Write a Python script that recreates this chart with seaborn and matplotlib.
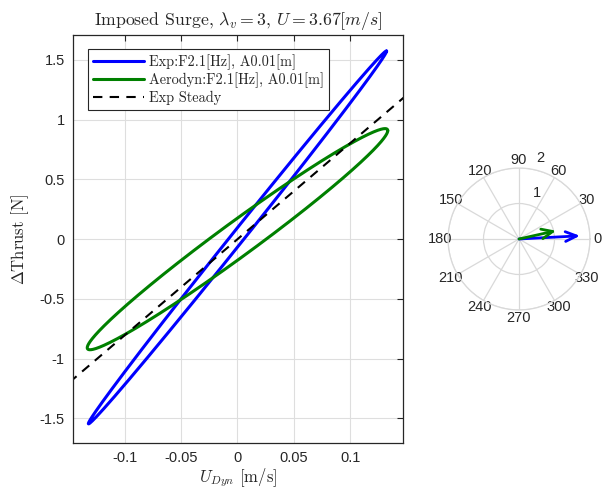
import numpy as np
import pandas as pd
import matplotlib
matplotlib.use("Agg")
import matplotlib.pyplot as plt
from matplotlib.lines import Line2D
import seaborn as sns

# ---- data ----
series_names = ["Exp:F2.1[Hz], A0.01[m]", "Aerodyn:F2.1[Hz], A0.01[m]"]
series_colors = ["#0000ff", "#008000"]
u_amplitude = [0.132, 0.133]        # m/s
thrust_amplitude = [1.56, 0.925]    # N
phase_deg = [3.0, 11.0]             # thrust lead w.r.t. U_dyn
thrust_offset = [0.015, 0.0]

steady_u = [-0.16, 0.16]
steady_thrust = [-1.288, 1.288]

polar_mag = [1.72, 1.07]
polar_angle_deg = [3.0, 12.6]

xticks = [-0.1, -0.05, 0, 0.05, 0.1]
xtick_labels = ["-0.1", "-0.05", "0", "0.05", "0.1"]
yticks = [-1.5, -1, -0.5, 0, 0.5, 1, 1.5]
ytick_labels = ["-1.5", "-1", "-0.5", "0", "0.5", "1", "1.5"]

# ---- build loops ----
t = np.linspace(0, 2 * np.pi, 721)
frames = []
for name, A, B, ph, off in zip(series_names, u_amplitude, thrust_amplitude, phase_deg, thrust_offset):
    frames.append(pd.DataFrame({
        "u": A * np.cos(t),
        "T": B * np.cos(t + np.deg2rad(ph)) + off,
        "series": name,
    }))
df = pd.concat(frames, ignore_index=True)

sns.set_style("white")
plt.rcParams["axes.unicode_minus"] = False
plt.rcParams["mathtext.fontset"] = "cm"
plt.rcParams["font.family"] = ["Liberation Sans", "DejaVu Sans"]

fig = plt.figure(figsize=(6.03, 4.91), dpi=100)
ax = fig.add_axes([73 / 603, 1 - 443 / 491, 330 / 603, 408 / 491])

sns.lineplot(data=df, x="u", y="T", hue="series", palette=series_colors,
             sort=False, estimator=None, units="series", lw=2.2, ax=ax, legend=False)
dash = (0, (4.5, 3.5))
ax.plot(steady_u, steady_thrust, ls=dash, color="black", lw=1.5)

handles = [Line2D([], [], color=series_colors[0], lw=2.2),
           Line2D([], [], color=series_colors[1], lw=2.2),
           Line2D([], [], color="black", lw=1.5, ls=dash)]
leg = ax.legend(handles, series_names + ["Exp Steady"], loc="upper left",
                bbox_to_anchor=(0.045, 0.966), fancybox=False, framealpha=1,
                edgecolor="#262626", prop={"family": "cmr10", "size": 10.3},
                handlelength=3.6, borderpad=0.35, labelspacing=0.2, handletextpad=0.3,
                borderaxespad=0)
leg.get_frame().set_linewidth(0.8)

ax.set_xlim(-0.1456, 0.1465)
ax.set_ylim(-1.705, 1.708)
ax.set_xticks(xticks)
ax.set_xticklabels(xtick_labels)
ax.set_yticks(yticks)
ax.set_yticklabels(ytick_labels)
ax.grid(True, color="#dedede", lw=0.8)
ax.set_axisbelow(True)
ax.tick_params(direction="in", top=True, right=True, length=4, width=0.8,
               labelsize=10.5, colors="#262626", pad=6)
for sp in ax.spines.values():
    sp.set_color("#262626")
    sp.set_linewidth(0.9)
    sp.set_visible(True)

ax.set_xlabel(r"$U_{Dyn}$ [m/s]", fontfamily="cmr10", fontsize=12, labelpad=1)
ax.set_ylabel(r"$\Delta$Thrust [N]", fontfamily="cmr10", fontsize=12, labelpad=6)
ax.set_title(r"Imposed Surge, $\lambda_v = 3$, $U = 3.67[m/s]$", fontfamily="cmr10",
             fontsize=12.8, pad=7)

# ---- polar compass ----
pax = fig.add_axes([448 / 603, 1 - 310 / 491, 142 / 603, 142 / 491], projection="polar")
pax.set_ylim(0, 2)
pax.set_yticks([1, 2])
pax.set_yticklabels([])
pax.set_xticks(np.deg2rad(np.arange(0, 360, 30)))
pax.set_xticklabels([str(a) for a in range(0, 360, 30)], fontsize=10.5)
pax.tick_params(axis="x", pad=-5)
pax.grid(True, color="#d9d9d9", lw=0.9)
pax.spines["polar"].set_color("#d9d9d9")
pax.spines["polar"].set_linewidth(0.9)
pax.set_facecolor("white")
pax.text(np.deg2rad(69), 1.38, "1", ha="center", va="center", fontsize=10.5)
pax.text(np.deg2rad(75), 2.37, "2", ha="center", va="center", fontsize=10.5)
for mag, ang, col in zip(polar_mag, polar_angle_deg, series_colors):
    pax.annotate("", xy=(np.deg2rad(ang), mag), xytext=(0, 0),
                 arrowprops=dict(arrowstyle="->,head_length=0.8,head_width=0.35",
                                 color=col, lw=2, shrinkA=0, shrinkB=0))

fig.savefig("out.png", dpi=100)
